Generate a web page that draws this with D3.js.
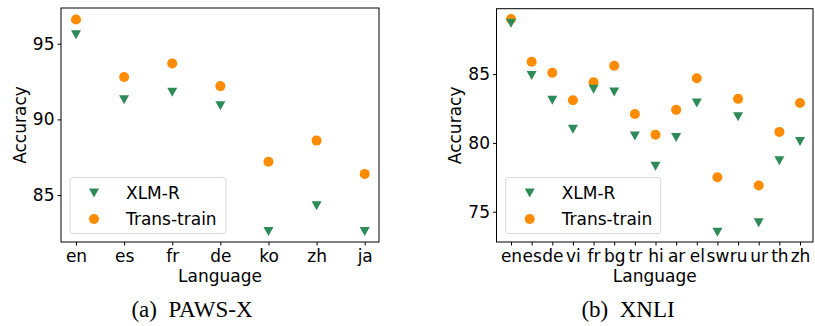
<!DOCTYPE html>
<html>
<head>
<meta charset="utf-8">
<script src="https://cdn.jsdelivr.net/npm/d3@7"></script>
<style>
  body { margin: 0; background: #fff; }
  svg text { font-family: "DejaVu Sans", sans-serif; fill: #000; }
  .caption { font-family: "Liberation Serif", "Times New Roman", serif; white-space: pre; }
</style>
</head>
<body>
<div id="wrapper"></div>
<script>
// data
const pawsLangs = ["en", "es", "fr", "de", "ko", "zh", "ja"];
const pawsXlmr = [95.6, 91.3, 91.8, 90.9, 82.6, 84.3, 82.6];
const pawsTrans = [96.6, 92.8, 93.7, 92.2, 87.2, 88.6, 86.4];
const pawsTicks = [85, 90, 95];

const xnliLangs = ["en", "es", "de", "vi", "fr", "bg", "tr", "hi", "ar", "el", "sw", "ru", "ur", "th", "zh"];
const xnliXlmr = [88.7, 84.9, 83.1, 81.0, 83.9, 83.7, 80.5, 78.3, 80.4, 82.9, 73.5, 81.9, 74.2, 78.7, 80.1];
const xnliTrans = [89.0, 85.9, 85.1, 83.1, 84.4, 85.6, 82.1, 80.6, 82.4, 84.7, 77.5, 83.2, 76.9, 80.8, 82.9];
const xnliTicks = [75, 80, 85];

const seriesNames = ["XLM-R", "Trans-train"];
const green = "#2e8b57";
const orange = "#ff8c00";

const width = 815, height = 326;
const fontSize = 17;
const svg = d3.select("#wrapper").append("svg")
  .attr("width", width).attr("height", height);

const tri = d3.symbol().type({
  draw(ctx, size) {
    // downward triangle
    const r = Math.sqrt(size) / 2;
    ctx.moveTo(-r, -r * 0.9);
    ctx.lineTo(r, -r * 0.9);
    ctx.lineTo(0, r * 0.9);
    ctx.closePath();
  }
}).size(100);

function drawPanel(opt) {
  const { left, right, top, bottom, langs, xlmr, trans, ticks, domain, caption, legend } = opt;
  const g = svg.append("g");

  const x = d3.scalePoint().domain(langs).range(opt.xRange);
  const y = d3.scaleLinear().domain(domain).range([bottom, top]);

  // frame
  g.append("rect")
    .attr("x", left).attr("y", top)
    .attr("width", right - left).attr("height", bottom - top)
    .attr("fill", "none").attr("stroke", "#000").attr("stroke-width", 1);

  // axes
  const xAxis = g.append("g")
    .attr("transform", `translate(0,${bottom})`)
    .call(d3.axisBottom(x).tickSize(3.5).tickPadding(4));
  xAxis.select(".domain").remove();
  xAxis.selectAll("text").attr("font-size", fontSize).style("font-family", "DejaVu Sans");

  const yAxis = g.append("g")
    .attr("transform", `translate(${left},0)`)
    .call(d3.axisLeft(y).tickValues(ticks).tickSize(3.5).tickPadding(3));
  yAxis.select(".domain").remove();
  yAxis.selectAll("text").attr("font-size", fontSize).style("font-family", "DejaVu Sans");

  // markers
  g.selectAll(".trans").data(langs).join("circle")
    .attr("cx", d => x(d))
    .attr("cy", (d, i) => y(trans[i]))
    .attr("r", 5)
    .attr("fill", orange);

  g.selectAll(".xlmr").data(langs).join("path")
    .attr("d", tri)
    .attr("transform", (d, i) => `translate(${x(d)},${y(xlmr[i])})`)
    .attr("fill", green);

  // axis labels
  g.append("text")
    .attr("x", (left + right) / 2).attr("y", 282)
    .attr("text-anchor", "middle").attr("font-size", fontSize)
    .text("Language");
  g.append("text")
    .attr("transform", `translate(${opt.yLabelX},${(top + bottom) / 2}) rotate(-90)`)
    .attr("text-anchor", "middle").attr("font-size", fontSize)
    .text("Accuracy");

  // legend
  const lg = g.append("g");
  lg.append("rect")
    .attr("x", legend.x).attr("y", 177.5)
    .attr("width", legend.w).attr("height", 56)
    .attr("rx", 2.5)
    .attr("fill", "#fff").attr("fill-opacity", 0.8)
    .attr("stroke", "#d9d9d9").attr("stroke-width", 1);
  const rows = [193, 219];
  lg.append("path")
    .attr("d", tri)
    .attr("transform", `translate(${legend.x + 24},${rows[0]})`)
    .attr("fill", green);
  lg.append("circle")
    .attr("cx", legend.x + 24).attr("cy", rows[1]).attr("r", 5)
    .attr("fill", orange);
  lg.selectAll(".lt").data(seriesNames).join("text")
    .attr("x", legend.x + 56)
    .attr("y", (d, i) => rows[i])
    .attr("dy", "0.36em")
    .attr("font-size", fontSize)
    .text(d => d);

  // caption
  g.append("text")
    .attr("class", "caption")
    .attr("x", opt.captionX).attr("y", 316.5)
    .attr("text-anchor", "middle").attr("font-size", 23)
    .style("font-family", "Liberation Serif")
    .text(caption);
}

drawPanel({
  left: 61, right: 379, top: 8, bottom: 242,
  xRange: [76, 364.7],
  langs: pawsLangs, xlmr: pawsXlmr, trans: pawsTrans,
  ticks: pawsTicks, domain: [81.9, 97.36],
  yLabelX: 26, captionX: 192,
  caption: "(a)  PAWS-X",
  legend: { x: 70, w: 156 }
});

drawPanel({
  left: 496.5, right: 813, top: 8.7, bottom: 242,
  xRange: [511, 800],
  langs: xnliLangs, xlmr: xnliXlmr, trans: xnliTrans,
  ticks: xnliTicks, domain: [72.8, 89.75],
  yLabelX: 461, captionX: 628,
  caption: "(b)  XNLI",
  legend: { x: 505.7, w: 155 }
});
</script>
</body>
</html>
